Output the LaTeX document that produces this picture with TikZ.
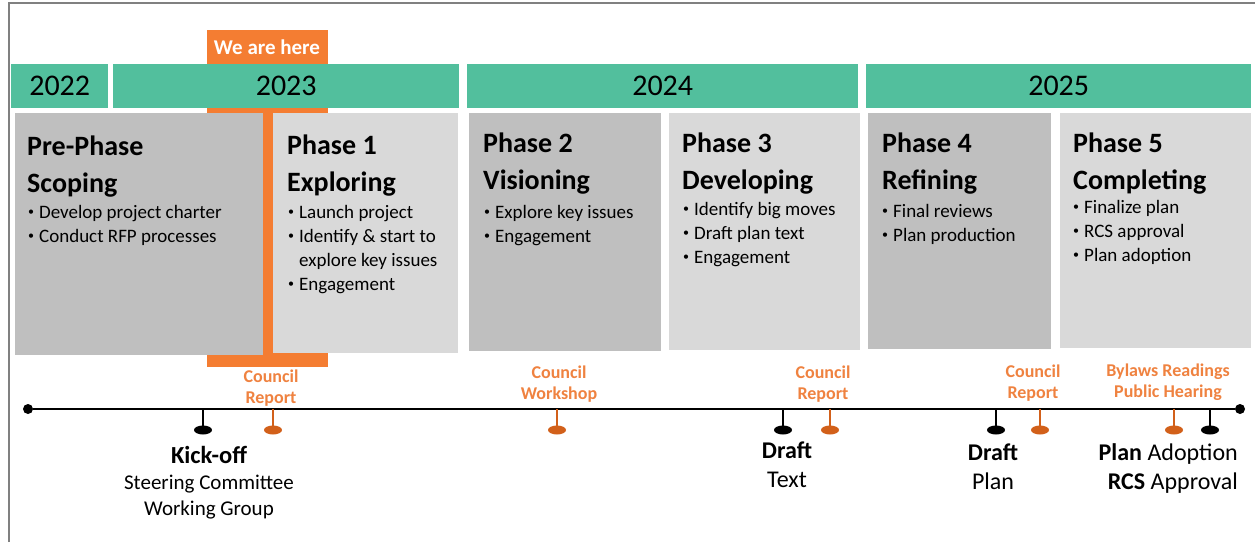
\documentclass[tikz,border=0pt]{standalone}
\usepackage{fontspec}
\setmainfont{Carlito}
\usepackage{xcolor}
\usetikzlibrary{shapes.geometric}
\definecolor{yearteal}{HTML}{52BF9D}
\definecolor{hereorange}{HTML}{F47D32}
\definecolor{noteorange}{HTML}{EF8240}
\definecolor{tickorange}{HTML}{D2601A}
\definecolor{darkphase}{HTML}{BFBFBF}
\definecolor{lightphase}{HTML}{D9D9D9}
\newcommand{\phbullet}{\raisebox{2.6pt}{\fontsize{12}{12}\selectfont\textbullet}}
\newcommand{\eventkey}[1]{{\fontsize{24.5}{27}\selectfont\bfseries #1}}

\begin{document}
\begin{tikzpicture}[x=1pt, y=-1pt,
    year/.style={fill=yearteal, anchor=north west, inner sep=0,
      minimum height=44, font=\fontsize{30}{36}\selectfont},
    phasebox/.style={fill=#1, anchor=north west, inner sep=0},
    head/.style={anchor=base west, inner sep=0,
      font=\fontsize{28}{37}\selectfont\bfseries},
    bullets/.style={anchor=base west, inner sep=0,
      font=\fontsize{19}{24}\selectfont},
    dot/.style={circle, fill=black, inner sep=0, minimum size=10},
    tick/.style={ellipse, fill=#1, inner sep=0, minimum width=18, minimum height=9},
    stem/.style={line width=2, draw=#1},
    note/.style={anchor=base, inner sep=0, text=noteorange,
      font=\fontsize{18}{21.5}\selectfont\bfseries},
    event/.style={anchor=base, inner sep=0,
      font=\fontsize{24}{29.5}\selectfont}]
  \useasboundingbox (0,0) rectangle (1255,542);
  \draw[line width=2, gray] (9,542) -- (9,3) -- (1255,3);

  \node[phasebox=hereorange, minimum width=121, minimum height=337] (hereband) at (207,30) {};
  \node[text=white, font=\fontsize{21}{24}\selectfont\bfseries] (heretext) at (267,47) {We are here};

  \node[year, minimum width=97] (y22) at (11,64) {2022};
  \node[year, minimum width=346] (y23) at (113,64) {2023};
  \node[year, minimum width=391] (y24) at (467,64) {2024};
  \node[year, minimum width=385] (y25) at (866,64) {2025};

  \node[phasebox=darkphase, minimum width=248, minimum height=242] (pre) at (15,113) {};
  \node[phasebox=lightphase, minimum width=185, minimum height=240] (ph1) at (273,113) {};
  \node[phasebox=darkphase, minimum width=192, minimum height=238] (ph2) at (469,113) {};
  \node[phasebox=lightphase, minimum width=191, minimum height=237] (ph3) at (669,113) {};
  \node[phasebox=darkphase, minimum width=183, minimum height=236] (ph4) at (868,113) {};
  \node[phasebox=lightphase, minimum width=191, minimum height=235] (ph5) at (1060,113) {};

  \node[head] (prehead) at (27,155) {\begin{tabular}[t]{@{}l@{}}Pre-Phase\\Scoping\end{tabular}};
  \node[head] (ph1head) at (287,154) {\begin{tabular}[t]{@{}l@{}}Phase 1\\Exploring\end{tabular}};
  \node[head] (ph2head) at (483,152) {\begin{tabular}[t]{@{}l@{}}Phase 2\\Visioning\end{tabular}};
  \node[head] (ph3head) at (682,152) {\begin{tabular}[t]{@{}l@{}}Phase 3\\Developing\end{tabular}};
  \node[head] (ph4head) at (882,152) {\begin{tabular}[t]{@{}l@{}}Phase 4\\Refining\end{tabular}};
  \node[head] (ph5head) at (1073,152) {\begin{tabular}[t]{@{}l@{}}Phase 5\\Completing\end{tabular}};

  \node[bullets] (prelist) at (28,218) {\begin{tabular}[t]{@{}l@{\hspace{5pt}}l@{}}
    \phbullet & Develop project charter\\
    \phbullet & Conduct RFP processes\end{tabular}};
  \node[bullets] (ph1list) at (288,218) {\begin{tabular}[t]{@{}l@{\hspace{5pt}}l@{}}
    \phbullet & Launch project\\
    \phbullet & Identify \& start to\\
    & explore key issues\\
    \phbullet & Engagement\end{tabular}};
  \node[bullets] (ph2list) at (484,218) {\begin{tabular}[t]{@{}l@{\hspace{5pt}}l@{}}
    \phbullet & Explore key issues\\
    \phbullet & Engagement\end{tabular}};
  \node[bullets] (ph3list) at (683,215) {\begin{tabular}[t]{@{}l@{\hspace{5pt}}l@{}}
    \phbullet & Identify big moves\\
    \phbullet & Draft plan text\\
    \phbullet & Engagement\end{tabular}};
  \node[bullets] (ph4list) at (882,217) {\begin{tabular}[t]{@{}l@{\hspace{5pt}}l@{}}
    \phbullet & Final reviews\\
    \phbullet & Plan production\end{tabular}};
  \node[bullets] (ph5list) at (1073,213) {\begin{tabular}[t]{@{}l@{\hspace{5pt}}l@{}}
    \phbullet & Finalize plan\\
    \phbullet & RCS approval\\
    \phbullet & Plan adoption\end{tabular}};

  \node[dot] (tstart) at (28,409) {};
  \node[dot] (tend) at (1240,409) {};
  \draw[line width=2] (tstart) -- (tend);

  \node[tick=black] (kick) at (203,430) {};
  \node[tick=tickorange] (report1) at (273,430) {};
  \node[tick=tickorange] (workshop) at (557,430) {};
  \node[tick=black] (drafttext) at (783,430) {};
  \node[tick=tickorange] (report2) at (830,430) {};
  \node[tick=black] (draftplan) at (996,430) {};
  \node[tick=tickorange] (report3) at (1040,430) {};
  \node[tick=tickorange] (bylaws) at (1174,430) {};
  \node[tick=black] (adoption) at (1210,430) {};
  \foreach \t in {kick, drafttext, draftplan, adoption}
    \draw[stem=black] (\t.center) -- (\t |- tstart);
  \foreach \t in {report1, workshop, report2, report3, bylaws}
    \draw[stem=tickorange] (\t.center) -- (\t |- tstart);

  \node[note] (report1text) at (271,382) {\begin{tabular}[t]{@{}c@{}}Council\\Report\end{tabular}};
  \node[note] (workshoptext) at (559,378) {\begin{tabular}[t]{@{}c@{}}Council\\Workshop\end{tabular}};
  \node[note] (report2text) at (823,378) {\begin{tabular}[t]{@{}c@{}}Council\\Report\end{tabular}};
  \node[note] (report3text) at (1033,377) {\begin{tabular}[t]{@{}c@{}}Council\\Report\end{tabular}};
  \node[note] (bylawstext) at (1168,376) {\begin{tabular}[t]{@{}c@{}}Bylaws Readings\\Public Hearing\end{tabular}};

  \node[event, font=\fontsize{21}{26}\selectfont] (kicktext) at (209,463) {\begin{tabular}[t]{@{}c@{}}\eventkey{Kick-off}\\Steering Committee\\Working Group\end{tabular}};
  \node[event] (drafttexttext) at (787,458) {\begin{tabular}[t]{@{}c@{}}\textbf{Draft}\\Text\end{tabular}};
  \node[event] (draftplantext) at (993,460) {\begin{tabular}[t]{@{}c@{}}\textbf{Draft}\\Plan\end{tabular}};
  \node[event, anchor=base east] (adoptiontext) at (1238,460) {\begin{tabular}[t]{@{}r@{}}\textbf{Plan} Adoption\\\textbf{RCS} Approval\end{tabular}};
\end{tikzpicture}
\end{document}
